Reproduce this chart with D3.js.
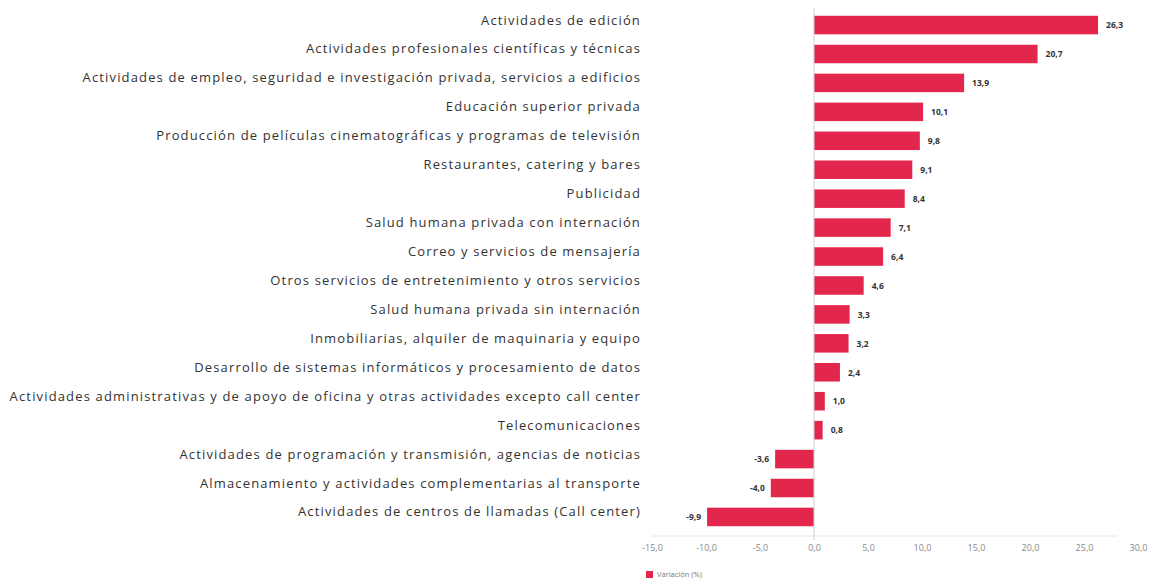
<!DOCTYPE html>
<html><head><meta charset="utf-8">
<script src="https://cdn.jsdelivr.net/npm/d3@7"></script>
<style>body{margin:0;background:#fff;} svg{display:block;}</style>
</head><body>
<svg id="chart" width="1156" height="586"></svg>
<script>
const categories = [
  "Actividades de edición",
  "Actividades profesionales científicas y técnicas",
  "Actividades de empleo, seguridad e investigación privada, servicios a edificios",
  "Educación superior privada",
  "Producción de películas cinematográficas y programas de televisión",
  "Restaurantes, catering y bares",
  "Publicidad",
  "Salud humana privada con internación",
  "Correo y servicios de mensajería",
  "Otros servicios de entretenimiento y otros servicios",
  "Salud humana privada sin internación",
  "Inmobiliarias, alquiler de maquinaria y equipo",
  "Desarrollo de sistemas informáticos y procesamiento de datos",
  "Actividades administrativas y de apoyo de oficina y otras actividades excepto call center",
  "Telecomunicaciones",
  "Actividades de programación y transmisión, agencias de noticias",
  "Almacenamiento y actividades complementarias al transporte",
  "Actividades de centros de llamadas (Call center)"
];
const values = [26.3, 20.7, 13.9, 10.1, 9.8, 9.1, 8.4, 7.1, 6.4, 4.6, 3.3, 3.2, 2.4, 1.0, 0.8, -3.6, -4.0, -9.9];
const xTicks = [-15, -10, -5, 0, 5, 10, 15, 20, 25, 30];
const seriesName = "Variación (%)";

const fmt = v => d3.format(".1f")(v).replace(".", ",").replace("−", "-");
const svg = d3.select("#chart");
const x = d3.scaleLinear().domain([-15, 30]).range([652, 1138]);
const y = d3.scaleBand().domain(categories).range([10, 532]).paddingInner(0.36).paddingOuter(0.2);
const color = "#e3264b";

// horizontal axis baseline (faint)
svg.append("line").attr("x1", x(-15)).attr("x2", x(28)).attr("y1", 536).attr("y2", 536)
  .attr("stroke", "#e6e6e6").attr("stroke-width", 1);

// bars
svg.append("g").selectAll("rect").data(values).join("rect")
  .attr("x", d => x(Math.min(0, d)))
  .attr("width", d => Math.abs(x(d) - x(0)))
  .attr("y", (d, i) => y(categories[i]))
  .attr("height", y.bandwidth())
  .attr("fill", color);

// zero line
svg.append("line").attr("x1", x(0)).attr("x2", x(0)).attr("y1", 8).attr("y2", 540)
  .attr("stroke", "#cfcfcf").attr("stroke-width", 1);

// category labels
svg.append("g").selectAll("text").data(categories).join("text")
  .attr("x", 641)
  .attr("y", d => y(d) + y.bandwidth() / 2 - 4)
  .attr("text-anchor", "end")
  .attr("dominant-baseline", "middle")
  .attr("font-family", "'Open Sans', sans-serif")
  .attr("font-size", 13)
  .attr("letter-spacing", 1.15)
  .attr("fill", "#333")
  .text(d => d);

// value labels
svg.append("g").selectAll("text").data(values).join("text")
  .attr("x", d => d >= 0 ? x(d) + 8 : x(d) - 6)
  .attr("y", (d, i) => y(categories[i]) + y.bandwidth() / 2 + 1)
  .attr("text-anchor", d => d >= 0 ? "start" : "end")
  .attr("dominant-baseline", "middle")
  .attr("font-family", "'Open Sans', sans-serif")
  .attr("font-size", 8.5)
  .attr("font-weight", "bold")
  .attr("fill", "#333")
  .text(d => fmt(d));

// x axis
const axis = d3.axisBottom(x).tickValues(xTicks).tickSize(0).tickFormat(fmt);
const gx = svg.append("g").attr("transform", "translate(0,540)").call(axis);
gx.select(".domain").remove();
gx.selectAll("text").attr("font-family", "'Open Sans', sans-serif").attr("font-size", 9)
  .attr("fill", "#888").attr("dy", "0.9em");

// legend
const lg = svg.append("g").attr("transform", "translate(646,571)");
lg.append("rect").attr("width", 7).attr("height", 7).attr("fill", color);
lg.append("text").attr("x", 11).attr("y", 4).attr("dominant-baseline", "middle")
  .attr("font-family", "'Open Sans', sans-serif").attr("font-size", 7.5).attr("fill", "#777")
  .text(seriesName);
</script>
</body></html>
